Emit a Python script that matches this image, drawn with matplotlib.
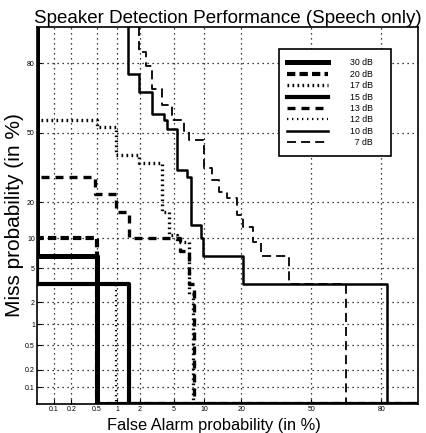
import numpy as np
import matplotlib
matplotlib.use("Agg")
import matplotlib.pyplot as plt
from statistics import NormalDist

# valeurs (en %), points des escaliers DET
# (0 = bord gauche / bas du graphe)
pfa_30 = [0, 0.5, 100]
pmiss_30 = [100, 6.7, 0]

pfa_20 = [0, 0.5, 100]
pmiss_20 = [100, 10, 0]

pfa_17 = [0, 0.5, 0.97, 1.96, 3.7, 4.4, 5.3, 7.1, 7.8, 100]
pmiss_17 = [100, 56, 52.6, 39.4, 35.8, 16.8, 10.8, 9.3, 2.5, 0]

pfa_15 = [0, 1.46, 100]
pmiss_15 = [100, 3.3, 0]

pfa_13 = [0, 0.48, 0.95, 1.46, 5.7, 7.1, 8.0, 100]
pmiss_13 = [100, 29.4, 22.8, 16.8, 10, 7.5, 3.3, 0]

pfa_12 = [0, 0.97, 100]
pmiss_12 = [100, 3.3, 0]

pfa_10 = [1.41, 1.96, 2.8, 3.9, 4.2, 5.3, 6.8, 7.5, 9.3, 9.7, 20.6, 82, 100]
pmiss_10 = [90, 76, 69, 59, 56, 52, 32.7, 29.4, 13.2, 10, 6.7, 3.3, 0]

pfa_7 = [1.96, 2.4, 2.8, 3.7, 4.8, 6.4, 7.1, 10, 11.7, 13.4, 15.6, 18.6, 20.6, 24.2, 27.3, 39.4, 66.4, 100]
pmiss_7 = [90, 83.5, 79, 70, 63, 56, 50.8, 46.5, 33.6, 28.5, 23.5, 21.4, 16, 12.7, 9.3, 6.7, 3.3, 0]

noms = ['30 dB', '20 dB', '17 dB', '15 dB', '13 dB', '12 dB', '10 dB', '  7 dB']
ticks = [0.1, 0.2, 0.5, 1, 2, 5, 10, 20, 50, 80]
tick_labels = ['0.1', '0.2', '0.5', '1', '2', '5', '10', '20', '50', '80']

plt.rcParams['font.family'] = ['Liberation Sans', 'DejaVu Sans']

_nd = NormalDist()
_ppf = np.vectorize(_nd.inv_cdf, otypes=[float])
_cdf = np.vectorize(_nd.cdf, otypes=[float])

def probit(p):
    p = np.clip(np.asarray(p, dtype=float), 0.05, 99.95)
    return _ppf(p / 100.0)

def inv_probit(z):
    return _cdf(np.asarray(z, dtype=float)) * 100.0

fig = plt.figure(figsize=(4.27, 4.33), dpi=100)
ax = fig.add_axes([37 / 427, 29 / 433, 381 / 427, 377 / 433])
ax.set_xscale('function', functions=(probit, inv_probit))
ax.set_yscale('function', functions=(probit, inv_probit))

courbes = [
    (pfa_30, pmiss_30, dict(lw=3.6, ls='-')),
    (pfa_20, pmiss_20, dict(lw=3.0, ls=(0, (2, 1)))),
    (pfa_17, pmiss_17, dict(lw=2.4, ls=(0, (0.5, 1.0)))),
    (pfa_15, pmiss_15, dict(lw=3.0, ls='-')),
    (pfa_13, pmiss_13, dict(lw=2.4, ls=(0, (2.4, 1.8)))),
    (pfa_12, pmiss_12, dict(lw=1.6, ls=(0, (0.6, 1.65)))),
    (pfa_10, pmiss_10, dict(lw=1.8, ls='-')),
    (pfa_7, pmiss_7, dict(lw=1.3, ls=(0, (5, 2.8)))),
]
for (x, y, style), nom in zip(courbes, noms):
    ax.step(x, y, where='pre', color='black', label=nom + '    ', **style)

ax.set_xlim(0.05, 90)
ax.set_ylim(0.05, 90)
ax.set_xticks(ticks)
ax.set_xticklabels(tick_labels)
ax.set_yticks(ticks)
ax.set_yticklabels(tick_labels)
ax.minorticks_off()
ax.tick_params(direction='in', length=3.5, width=0.8, labelsize=5, pad=1.5)
ax.grid(True, color='black', linestyle=(0, (1, 3)), linewidth=0.9)
for s in ax.spines.values():
    s.set_linewidth(1.2)

ax.set_title("Speaker Detection Performance (Speech only)", fontsize=13.5, pad=3)
ax.set_xlabel("False Alarm probability (in %)", fontsize=11.8, va='bottom')
ax.xaxis.set_label_coords(0.465, -28.8 / 377)
ax.set_ylabel("Miss probability (in %)", fontsize=15)
ax.yaxis.set_label_coords(-13 / 381, 0.5)

leg = ax.legend(loc='upper right', bbox_to_anchor=(0.94, 0.952), fontsize=6.3,
                handlelength=4.6, labelspacing=0.28, handletextpad=2.5,
                fancybox=False, framealpha=1, edgecolor='black', borderpad=1.0)
leg.get_frame().set_linewidth(1.2)

fig.savefig('out.png', dpi=100)
